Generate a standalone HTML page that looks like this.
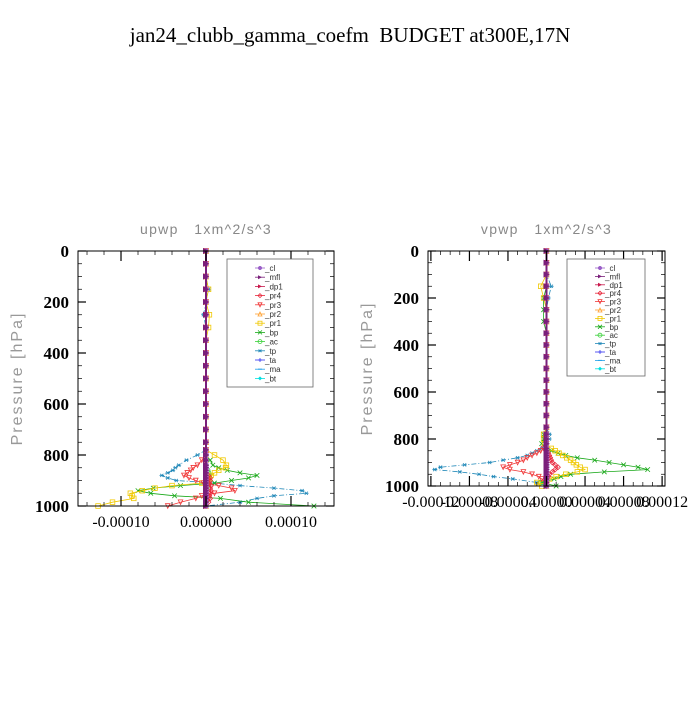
<!DOCTYPE html>
<html><head><meta charset="utf-8"><style>
body{margin:0;background:#fff}
svg text{font-family:"Liberation Sans",sans-serif}
</style></head><body>
<svg id="c" width="700" height="700" viewBox="0 0 700 700" xmlns="http://www.w3.org/2000/svg">
<rect width="700" height="700" fill="#fff"/>
<text x="350" y="42" text-anchor="middle" font-size="21" style="font-family:'Liberation Serif',serif;white-space:pre">jan24_clubb_gamma_coefm  BUDGET at300E,17N</text>
</svg>
<script>
// pressure levels (hPa)
const levels = [0,50,100,150,200,250,300,350,400,450,500,550,600,650,700,750,780,800,820,840,850,860,870,880,890,900,910,920,930,940,950,960,970,985,1000];
const seriesNames = ["_cl","_mfl","_dp1","_pr4","_pr3","_pr2","_pr1","_bp","_ac","_tp","_ta","_ma","_bt"];
// upwp values (units 1e-5)
const uZero = [0,0,0,0,0,0,0,0,0,0,0,0,0,0,0,0,0,0,0,0,0,0,0,0,0,0,0,0,0,0,0,0,0,0,0];
const uPr4 = [0,0,0,0,0,0,0,0,0,0,0,0,0,0,0,0,0,0,0,0,0,0,0,0.3,0.5,0.5,0.4,0.6,0.5,0.6,0.5,0.4,0.5,0.3,0];
const uPr3 = [0,0,0,0,0,0,0,0,0,0,0,0,0,0,0,0,0,0,-0.5,-1,-1.5,-1.8,-2.2,-2.6,-2,-1.2,-0.3,1.5,3,3.4,1,-0.5,-1.2,-3,-4.5];
const uPr1 = [0,0,0,0.3,0,0.4,0.3,0,0,0,0,0,0,0,0,0,0,1,2,2.4,2.3,1.5,1,0.6,0.4,0.2,-0.5,-4,-6,-7.5,-8.9,-8.7,-8.5,-11,-12.7];
const uBp = [0,0,0,0,0,0,0,0,0,0,0,0,0,0,0,0,0,0,0.5,0.8,1.5,2.5,4,6,5,3,1,-3,-6.2,-8,-6.5,-3.7,1.7,5,12.7];
const uAc = [0,0,0,0,0,0,0,0,0,0,0,0,0,0,0,0,0,0,0,0,0,0.2,0.3,0.4,0.3,0.4,0.3,0.2,0.1,0,0,0,0,0,0];
const uTp = [0,0,0,0.3,0,-0.3,0,0,0,0,0,0,0,0,0,0,0,-1,-2.3,-3.2,-3.6,-3.9,-4.5,-5.2,-4.5,-3.5,1,4,8,11.3,11.8,8,6,4,0];
// vpwp values (units 1e-5)
const vZero = [0,0,0,0,0,0,0,0,0,0,0,0,0,0,0,0,0,0,0,0,0,0,0,0,0,0,0,0,0,0,0,0,0,0,0];
const vPr4 = [0,0,0,0,0,0,0,0,0,0,0,0,0,0,0,0,0,0,0,0,0,0.2,0.3,0.4,0.5,0.6,0.9,1.2,0.9,0.6,0.3,0.2,0,0,0];
const vPr3 = [0,0,0,0,0,0,0,0,0,0,0,0,0,0,0,0,0,0,0,-0.3,-0.6,-1,-1.5,-2,-2.4,-3,-3.8,-4.5,-3.8,-2.4,-1.5,-0.8,-0.5,0,0];
const vPr1 = [0,0,0,-0.6,-0.3,0,0,0,0,0,0,0,0,0,0,0,-0.3,-0.3,-0.2,0.5,0.9,1.3,1.7,2.1,2.5,2.8,3.1,3.5,4,3.2,2,1,0.3,-1,-0.5];
const vBp = [0,0,0,0,-0.3,-0.3,-0.3,0,0,0,0,0,0,0,0,0,-0.3,-0.3,-0.5,0,0.5,1.2,2,3.2,5,6.5,8,9.5,10.5,6,2.5,1.5,0.8,-0.5,1];
const vAc = [0,0,0,0,0,0,0,0,0,0,0,0,0,0,0,0,0,0,0,0,0,0,0,0,0,0,0,0,0,0,0,0,0,-0.6,0];
const vTp = [0,0,0,0.5,0.2,0,0,0,0,0,0,0,0,0,0,0,0.3,0.3,0,-0.5,-1,-1.5,-2,-3,-4.5,-5.9,-8.5,-11,-11.6,-9,-7,-5.5,-3.5,-1,0];
const uTicks = [-10,0,10], uTickLabels = ["-0.00010","0.00000","0.00010"];
const vTicks = [-12,-8,-4,0,4,8,12], vTickLabels = ["-0.00012","-0.00008","-0.00004","0.00000","0.00004","0.00008","0.00012"];
const pTicks = [0,200,400,600,800,1000];

const NS="http://www.w3.org/2000/svg";
const svg=document.getElementById('c');
function mk(tag,attrs,parent){const e=document.createElementNS(NS,tag);for(const k in attrs)e.setAttribute(k,attrs[k]);(parent||svg).appendChild(e);return e;}
const styles={
"_cl":{c:"#9a5fc8",m:"star"},"_mfl":{c:"#7a1f7a",m:"tri"},"_dp1":{c:"#c8184b",m:"tri"},
"_pr4":{c:"#e8283c",m:"diam"},"_pr3":{c:"#f03838",m:"tdown"},"_pr2":{c:"#ffa030",m:"tup"},
"_pr1":{c:"#f0c800",m:"sq"},"_bp":{c:"#18a818",m:"x"},"_ac":{c:"#38d038",m:"circ"},
"_tp":{c:"#2088b8",m:"ast",d:"5,2,1,2"},"_ta":{c:"#3030f0",m:"plus"},"_ma":{c:"#20a0e8",m:"dash",d:"4,2"},"_bt":{c:"#00e0e0",m:"fdiam"}};
function marker(g,type,x,y,c,s){
 s=s||2.5;
 if(type=="sq")mk('rect',{x:x-s,y:y-s,width:2*s,height:2*s,fill:"none",stroke:c,'stroke-width':0.8},g);
 else if(type=="circ")mk('circle',{cx:x,cy:y,r:s,fill:"none",stroke:c,'stroke-width':0.8},g);
 else if(type=="diam")mk('path',{d:`M${x} ${y-s}L${x+s} ${y}L${x} ${y+s}L${x-s} ${y}Z`,fill:"none",stroke:c,'stroke-width':0.8},g);
 else if(type=="fdiam")mk('path',{d:`M${x} ${y-s}L${x+s} ${y}L${x} ${y+s}L${x-s} ${y}Z`,fill:c},g);
 else if(type=="tdown")mk('path',{d:`M${x-s} ${y-s}L${x+s} ${y-s}L${x} ${y+s}Z`,fill:"none",stroke:c,'stroke-width':0.8},g);
 else if(type=="tup")mk('path',{d:`M${x-s} ${y+s}L${x+s} ${y+s}L${x} ${y-s}Z`,fill:"none",stroke:c,'stroke-width':0.8},g);
 else if(type=="tri")mk('path',{d:`M${x-s} ${y-s}L${x+s} ${y}L${x-s} ${y+s}Z`,fill:c},g);
 else if(type=="x")mk('path',{d:`M${x-s} ${y-s}L${x+s} ${y+s}M${x+s} ${y-s}L${x-s} ${y+s}`,stroke:c,'stroke-width':0.8},g);
 else if(type=="plus")mk('path',{d:`M${x-s} ${y}L${x+s} ${y}M${x} ${y-s}L${x} ${y+s}`,stroke:c,'stroke-width':0.8},g);
 else if(type=="dash")mk('path',{d:`M${x-s} ${y}L${x+s} ${y}`,stroke:c,'stroke-width':1},g);
 else if(type=="ast"||type=="star")mk('path',{d:`M${x-s} ${y}L${x+s} ${y}M${x-s*0.7} ${y-s*0.7}L${x+s*0.7} ${y+s*0.7}M${x+s*0.7} ${y-s*0.7}L${x-s*0.7} ${y+s*0.7}`+(type=="star"?`M${x} ${y-s}L${x} ${y+s}`:""),stroke:c,'stroke-width':type=="star"?1.4:0.8},g);
}
function panel(o){
 const sx=v=>o.x0+(v-o.xmin)/(o.xmax-o.xmin)*(o.x1-o.x0);
 const sy=p=>o.y0+p/1000*(o.y1-o.y0);
 const g=mk('g',{});
 
 
 const t=mk('text',{x:(o.x0+o.x1)/2,y:o.y0-17,'text-anchor':'middle','font-size':14,fill:'#888','letter-spacing':1.3,style:'white-space:pre'},g);
 
 t.textContent=o.title;
 const yl=mk('text',{x:0,y:0,'text-anchor':'middle','font-size':16,fill:'#999',transform:`translate(${o.x0-56},${(o.y0+o.y1)/2}) rotate(-90)`,'letter-spacing':2},g);
 
 yl.textContent="Pressure [hPa]";
 const order=["_tp","_ta","_ma","_bt","_bp","_ac","_pr1","_pr2","_pr3","_pr4","_cl","_dp1","_mfl"];
 order.forEach(n=>{
  const vals=o.data[n];const st=styles[n];
  const sg=mk('g',{},g);
  
  const d=vals.map((v,i)=>(i?'L':'M')+sx(v).toFixed(1)+' '+sy(levels[i]).toFixed(1)).join('');
  const ln=mk('path',{d:d,fill:'none',stroke:st.c,'stroke-width':(n=="_mfl"||n=="_cl")?2:0.8},sg);
  if(st.d)ln.setAttribute('stroke-dasharray',st.d);
  vals.forEach((v,i)=>marker(sg,st.m,sx(v),sy(levels[i]),st.c,(n=="_mfl"||n=="_cl"||n=="_dp1")?3:2.3));
 });
 const fr=mk('rect',{x:o.x0,y:o.y0,width:o.x1-o.x0,height:o.y1-o.y0,fill:'none',stroke:'#000','stroke-width':1},g);
 
 for(let p=0;p<=1000;p+=50){const maj=p%200==0;const L=maj?8:4;
  mk('line',{x1:o.x0,x2:o.x0+L,y1:sy(p),y2:sy(p),stroke:'#000','stroke-width':maj?1.2:0.7},g);
  mk('line',{x1:o.x1,x2:o.x1-L,y1:sy(p),y2:sy(p),stroke:'#000','stroke-width':maj?1.2:0.7},g);}
 pTicks.forEach(p=>{const tl=mk('text',{x:o.x0-9,y:sy(p)+6,'text-anchor':'end','font-size':17,'font-weight':'bold',style:"font-family:'Liberation Serif',serif"},g);
  tl.textContent=p;});
 for(let v=Math.ceil(o.xmin/o.minor)*o.minor;v<=o.xmax+1e-9;v+=o.minor){
  const maj=o.ticks.some(t=>Math.abs(t-v)<1e-6);const L=maj?10:4;
  mk('line',{x1:sx(v),x2:sx(v),y1:o.y1,y2:o.y1-L,stroke:'#000','stroke-width':maj?1.2:0.7},g);
  mk('line',{x1:sx(v),x2:sx(v),y1:o.y0,y2:o.y0+L,stroke:'#000','stroke-width':maj?1.2:0.7},g);}
 o.ticks.forEach((v,i)=>{const tl=mk('text',{x:sx(v),y:o.y1+21,'text-anchor':'middle','font-size':16,style:"font-family:'Liberation Serif',serif"},g);
  tl.textContent=o.tickLabels[i];});
 const lg=mk('g',{},g);
 
 mk('rect',{x:o.lx,y:o.ly,width:o.lw,height:o.lh,fill:'#fff',stroke:'#666','stroke-width':0.8},lg);
 seriesNames.forEach((n,i)=>{const st=styles[n];const y=o.ly+9+i*o.ls;
  const e=mk('g',{},lg);
  mk('line',{x1:o.lx+28,x2:o.lx+38,y1:y,y2:y,stroke:st.c,'stroke-width':0.8},e);
  marker(e,st.m,o.lx+33,y,st.c,2);
  const tx=mk('text',{x:o.lx+38,y:y+3,'font-size':8,fill:'#333'},e);tx.textContent=n;});
}
function dataset(z,pr4,pr3,pr1,bp,ac,tp){return {"_cl":z,"_mfl":z,"_dp1":z,"_pr4":pr4,"_pr3":pr3,"_pr2":z,"_pr1":pr1,"_bp":bp,"_ac":ac,"_tp":tp,"_ta":z,"_ma":z,"_bt":z};}
panel({name:'upwp-panel',title:'upwp   1xm^2/s^3',x0:78,x1:334,y0:251,y1:506,xmin:-15.06,xmax:15.06,minor:2,ticks:uTicks,tickLabels:uTickLabels,
 data:dataset(uZero,uPr4,uPr3,uPr1,uBp,uAc,uTp),lx:227,ly:259,lw:86,lh:128,ls:9.2});
panel({name:'vpwp-panel',title:'vpwp   1xm^2/s^3',x0:428,x1:665,y0:251,y1:486,xmin:-12.3,xmax:12.3,minor:1,ticks:vTicks,tickLabels:vTickLabels,
 data:dataset(vZero,vPr4,vPr3,vPr1,vBp,vAc,vTp),lx:567,ly:259,lw:78,lh:117,ls:8.4});
</script>
</body></html>
